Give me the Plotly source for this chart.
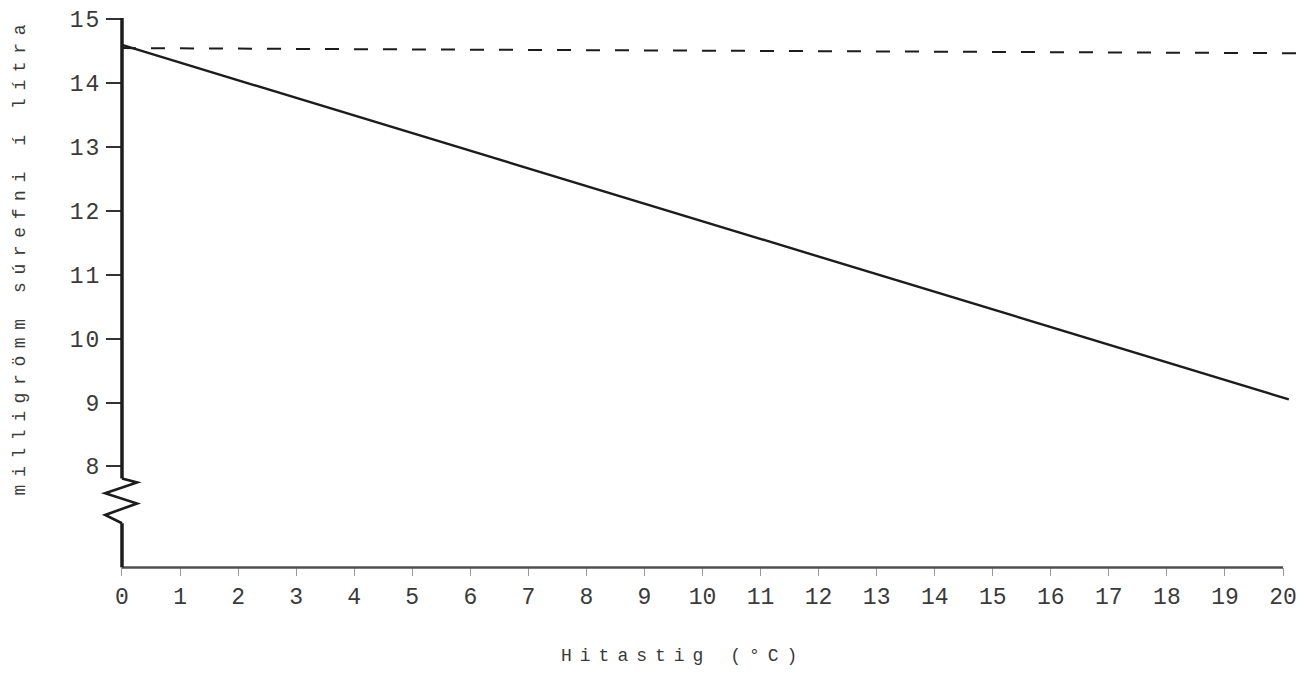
import plotly.graph_objects as go

# ---- data ----
temp_solid = [0, 20.1]
oxygen_solid = [14.6, 9.05]
temp_dashed = [0, 20.25]
oxygen_dashed = [14.55, 14.47]
x_ticks = list(range(0, 21))
y_ticks = list(range(8, 16))
x_title = "Hitastig (°C)"
y_title = "milligrömm súrefni í lítra"

# ---- geometry (pixels) ----
OFF = 0  # page body margin is removed below
W, H = 1299, 673
L, R, T = 99, 2, 12.6
x_range = [-0.396, 20.241]
y_range = [6.3, 15.1]
B = 98.4
y_base = 6.419  # where the x axis line sits

pw = W - L - R
ph = H - T - B


def xfrac(v):
    return (v - x_range[0]) / (x_range[1] - x_range[0])


def yfrac(v):
    return (v - y_range[0]) / (y_range[1] - y_range[0])


def px_to_paper_x(px):
    return (px - OFF - L) / pw


def px_to_paper_y(py):
    return (H - B - (py - OFF)) / ph


def spaced(s, sp):
    return '<span style="letter-spacing:%spx">%s</span>' % (sp, s)


FONT = "Liberation Mono, Courier New, monospace"
TXT = "#3a3a3a"
INK = "#1c1c1c"

fig = go.Figure()
fig.add_trace(go.Scatter(x=temp_dashed, y=oxygen_dashed, mode="lines",
                         line=dict(color=INK, width=2, dash="14px,15px"),
                         hoverinfo="skip", showlegend=False))
fig.add_trace(go.Scatter(x=temp_solid, y=oxygen_solid, mode="lines",
                         line=dict(color=INK, width=2.4),
                         hoverinfo="skip", showlegend=False))

# axis lines drawn as shapes (vertical axis has a break)
fig.add_shape(type="line", x0=0, x1=20, y0=y_base, y1=y_base, xref="x", yref="y",
              line=dict(color="#505050", width=2.5))
fig.add_shape(type="line", x0=0, x1=0, y0=15.02, y1=7.81, xref="x", yref="y",
              line=dict(color=INK, width=3.5))
fig.add_shape(type="path", xref="x", yref="y",
              path="M 0,7.81 L 0.26,7.75 L -0.29,7.58 L 0.26,7.42 L -0.29,7.24 L 0,7.11",
              line=dict(color=INK, width=2.6))
fig.add_shape(type="line", x0=0, x1=0, y0=7.11, y1=y_base, xref="x", yref="y",
              line=dict(color=INK, width=3.5))

fig.update_layout(
    width=W, height=H,
    margin=dict(l=L, r=R, t=T, b=B, autoexpand=False),
    paper_bgcolor="white", plot_bgcolor="white",
    font=dict(family=FONT, size=18, color=TXT),
    xaxis=dict(range=x_range, showgrid=False, zeroline=False, showline=False,
               tickmode="array", tickvals=x_ticks,
               ticktext=[str(v) for v in x_ticks],
               ticks="outside", ticklen=8, tickwidth=1, tickcolor="#9a9a9a",
               anchor="free", position=yfrac(y_base),
               ticklabeloverflow="allow",
               tickfont=dict(family=FONT, size=23, color=TXT)),
    yaxis=dict(range=y_range, showgrid=False, zeroline=False, showline=False,
               tickmode="array", tickvals=y_ticks,
               ticktext=[spaced(str(v), 2) for v in y_ticks],
               ticks="outside", ticklen=16, tickwidth=2, tickcolor="#333333",
               anchor="free", position=xfrac(0),
               tickfont=dict(family=FONT, size=23, color=TXT)),
    annotations=[
        dict(text=spaced(x_title, 8),
             xref="paper", yref="paper",
             x=px_to_paper_x(683), y=px_to_paper_y(656),
             xanchor="center", yanchor="middle", showarrow=False,
             font=dict(family=FONT, size=18, color=TXT)),
        dict(text=spaced(y_title, 7.6),
             xref="paper", yref="paper", textangle=-90,
             x=px_to_paper_x(20), y=px_to_paper_y(256),
             xanchor="center", yanchor="middle", showarrow=False,
             font=dict(family=FONT, size=18, color=TXT)),
    ],
)

fig.write_html(
    "out.html",
    config={"displayModeBar": False, "staticPlot": True},
    post_script="document.body.style.margin='0';document.body.style.overflow='hidden';",
)
